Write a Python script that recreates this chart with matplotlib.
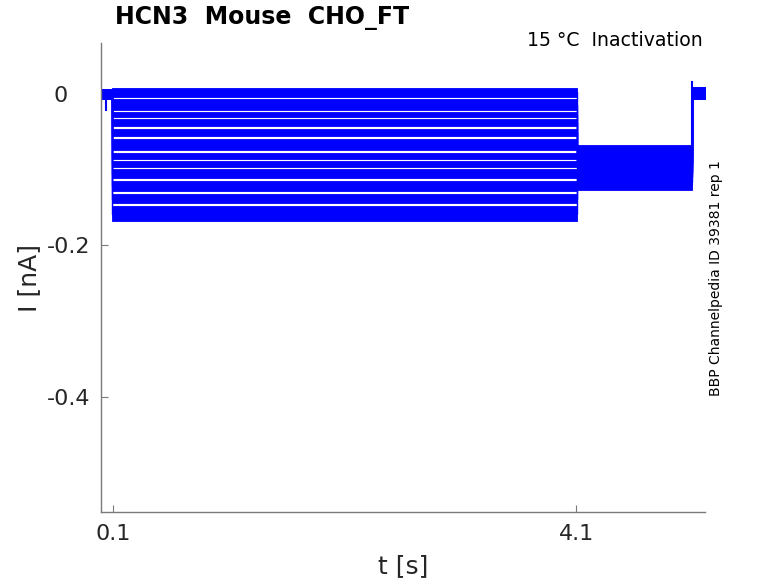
import matplotlib
matplotlib.use("Agg")
import matplotlib.pyplot as plt
import numpy as np

# ---- data (nA, seconds) ----
t_start = 0.0
t_step_on = 0.092
t_step_off = 4.105
t_tail_off = 5.10
t_end = 5.21

hold_level = 0.0
hold_noise = 0.007
dip_time = 0.044
dip_value = -0.021

step_levels = [0.002, -0.0145, -0.0277, -0.0383, -0.0515, -0.0673,
               -0.0818, -0.0924, -0.1056, -0.1221, -0.1386, -0.1584]
step_noise = [0.006, 0.0073, 0.0033, 0.0046, 0.0046, 0.0073,
              0.0040, 0.0040, 0.0060, 0.0066, 0.0060, 0.0099]

tail_levels = [-0.079, -0.082, -0.085, -0.088, -0.091, -0.094,
               -0.097, -0.100, -0.103, -0.106, -0.110, -0.116]
tail_noise = [0.011] * 12

post_level = 0.001
post_noise = 0.008
spike_value = 0.016

x_ticks = [0.1, 4.1]
x_ticklabels = ["0.1", "4.1"]
y_ticks = [-0.4, -0.2, 0.0]
y_ticklabels = ["-0.4", "-0.2", "0   "]

BLUE = "#0000FF"
AX = "#7a7a7a"
TXT = "#262626"

fig = plt.figure(figsize=(7.78, 5.83), dpi=100)
ax = fig.add_axes([101 / 778, 1 - 512 / 583, (705 - 101) / 778, (512 - 43) / 583])

t = np.array([t_start, t_step_on, t_step_on, t_step_off, t_step_off,
              t_tail_off, t_tail_off, t_end])
for lev, nz, tl, tn in zip(step_levels, step_noise, tail_levels, tail_noise):
    mid = np.array([hold_level, hold_level, lev, lev, tl, tl, post_level, post_level])
    hw = np.array([hold_noise, hold_noise, nz, nz, tn, tn, post_noise, post_noise])
    ax.fill_between(t, mid - hw, mid + hw, color=BLUE, linewidth=0.6, edgecolor=BLUE)
    ax.plot(t, mid, color=BLUE, linewidth=1.0)

# initial artifact dip and end spike
ax.plot([dip_time, dip_time], [hold_level, dip_value], color=BLUE, linewidth=1.5)
ax.plot([t_tail_off, t_tail_off], [tail_levels[0], spike_value], color=BLUE, linewidth=1.5)

ax.set_xlim(t_start - 0.003, t_end)
ax.set_ylim(-0.552, 0.0673)

for s in ["top", "right"]:
    ax.spines[s].set_visible(False)
for s in ["left", "bottom"]:
    ax.spines[s].set_color(AX)
    ax.spines[s].set_linewidth(1.0)

ax.set_xticks(x_ticks)
ax.set_xticklabels(x_ticklabels)
ax.set_yticks(y_ticks)
ax.set_yticklabels(y_ticklabels)
ax.tick_params(direction="in", length=5, width=0.8, color=AX, labelcolor=TXT,
               labelsize=16)
ax.tick_params(axis="x", pad=9)
ax.tick_params(axis="y", pad=8)

ax.set_xlabel("t [s]", fontsize=18, color=TXT, labelpad=7)
ax.set_ylabel("I [nA]", fontsize=18, color=TXT, labelpad=4)

fig.text(115 / 778, 1 - 18 / 583, "HCN3  Mouse  CHO_FT", fontsize=17,
         fontweight="bold", color="black", ha="left", va="center")
fig.text(703 / 778, 1 - 41 / 583, "15 °C  Inactivation", fontsize=13.6,
         color="black", ha="right", va="center")
fig.text(716 / 778, 1 - 278 / 583, "BBP Channelpedia ID 39381 rep 1", fontsize=10,
         color="black", rotation=90, ha="center", va="center")

fig.savefig("out.png", dpi=100)
